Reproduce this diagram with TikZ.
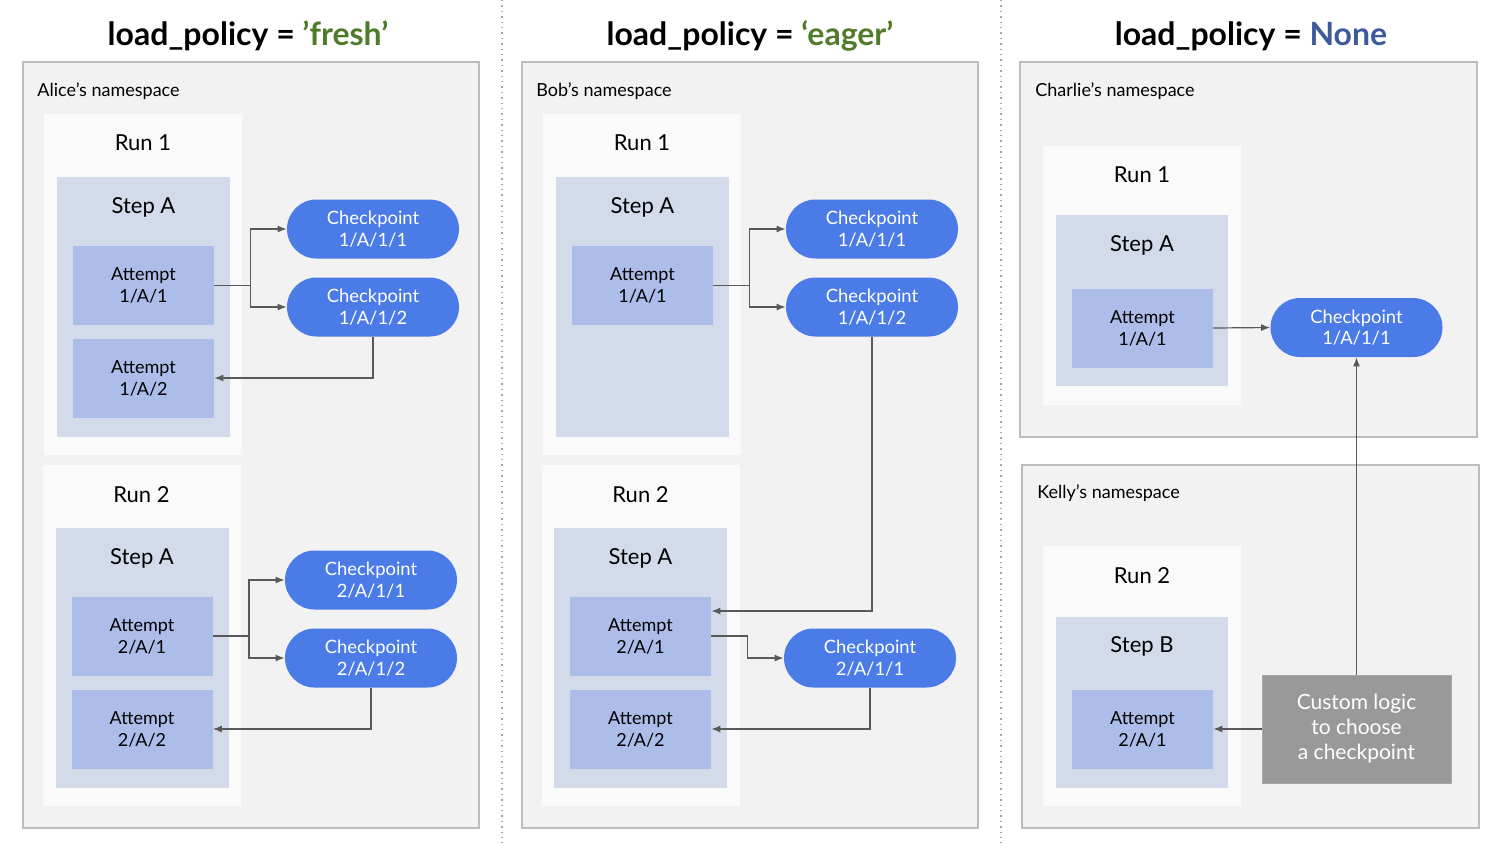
\documentclass[tikz,border=0pt]{standalone}
\usepackage{fontspec}
\setmainfont{Lato}
\usetikzlibrary{arrows.meta}
\definecolor{nsfill}{HTML}{F2F2F2}
\definecolor{nsline}{HTML}{BDBDBD}
\definecolor{runfill}{HTML}{FAFAFA}
\definecolor{stepfill}{HTML}{D3DBEA}
\definecolor{attfill}{HTML}{ADBDE9}
\definecolor{cpfill}{HTML}{4A7BE7}
\definecolor{logicfill}{HTML}{999999}
\definecolor{connline}{HTML}{595959}
\definecolor{freshgreen}{HTML}{4F7B2A}
\definecolor{noneblue}{HTML}{3C5A9A}

\begin{document}
\begin{tikzpicture}[x=0.5pt,y=-0.5pt]
		\tikzset{nsbox/.style = {draw=nsline,fill=nsfill,line width=0.8pt,minimum width=228pt},
			nslabel/.style = {anchor=west,font=\fontsize{9}{11}\selectfont,inner sep=0pt},
			runbox/.style = {fill=runfill,minimum width=99pt},
			stepbox/.style = {fill=stepfill,minimum width=86.5pt},
			boxlabel/.style = {font=\fontsize{11}{13}\selectfont,inner sep=0pt},
			attempt/.style = {fill=attfill,minimum width=70.5pt,minimum height=39.5pt,align=center,font=\fontsize{9}{11}\selectfont},
			checkpoint/.style = {fill=cpfill,text=white,rounded corners=14.75pt,minimum width=86pt,minimum height=29.5pt,align=center,font=\fontsize{9.2}{10.8}\selectfont},
			logic/.style = {fill=logicfill,draw=logicfill!85!white,text=white,minimum width=94.5pt,minimum height=54pt,align=center,font=\fontsize{10.5}{12.5}\selectfont},
			title/.style = {font=\fontsize{16}{19}\selectfont\bfseries},
			conn/.style = {draw=connline,line width=0.6pt,-{Latex[length=4.5pt,width=3.5pt]}},
			sep/.style = {draw=gray!70,line width=0.7pt,dotted}}
		\useasboundingbox (0,0) rectangle (1500,843);
			\node[title] (ttl1) at (248,36) {load\_policy = {\color{freshgreen}’fresh’}};
			\node[title] (ttl2) at (750,36) {load\_policy = {\color{freshgreen}‘eager’}};
			\node[title] (ttl3) at (1251,36) {load\_policy = {\color{noneblue}None}};
			\draw[sep] (502,0) -- (502,843);
			\draw[sep] (1001,0) -- (1001,843);

			\node[nsbox,minimum height=383pt] (alice) at (251,445) {};
			\node[nslabel] (alicelbl) at (37,91) {Alice’s namespace};
			\node[runbox,minimum height=170.5pt] (ar1) at (143,284.5) {};
			\node[boxlabel] (ar1lbl) at ([yshift=-14.5pt]ar1.north) {Run 1};
			\node[stepbox,minimum height=130pt] (as1) at (143.5,307) {};
			\node[boxlabel] (as1lbl) at ([yshift=-15.5pt]as1.north) {Step A};
			\node[attempt] (aa11) at (143.5,285.5) {Attempt\\1/A/1};
			\node[attempt] (aa12) at (143.5,378) {Attempt\\1/A/2};
			\node[checkpoint] (acp111) at (373,229) {Checkpoint\\1/A/1/1};
			\node[checkpoint] (acp112) at (373,307) {Checkpoint\\1/A/1/2};
			\node[runbox,minimum height=170.5pt] (ar2) at (141.5,635.5) {};
			\node[boxlabel] (ar2lbl) at ([yshift=-15pt]ar2.north) {Run 2};
			\node[stepbox,minimum height=130pt] (as2) at (142,658) {};
			\node[boxlabel] (as2lbl) at ([yshift=-15.5pt]as2.north) {Step A};
			\node[attempt] (aa21) at (142,636) {Attempt\\2/A/1};
			\node[attempt] (aa22) at (142,729) {Attempt\\2/A/2};
			\node[checkpoint] (acp211) at (371,580) {Checkpoint\\2/A/1/1};
			\node[checkpoint] (acp212) at (371,658) {Checkpoint\\2/A/1/2};
			\draw[conn] (aa11.east) -- ++(36,0) coordinate (asplit1) |- (acp111.west);
			\draw[conn] (asplit1) |- (acp112.west);
			\draw[conn] (acp112.south) |- (aa12.east);
			\draw[conn] (aa21.east) -- ++(36,0) coordinate (asplit2) |- (acp211.west);
			\draw[conn] (asplit2) |- (acp212.west);
			\draw[conn] (acp212.south) |- (aa22.east);

			\node[nsbox,minimum height=383pt] (bob) at (750,445) {};
			\node[nslabel] (boblbl) at (536,91) {Bob’s namespace};
			\node[runbox,minimum height=170.5pt] (br1) at (642,284.5) {};
			\node[boxlabel] (br1lbl) at ([yshift=-14.5pt]br1.north) {Run 1};
			\node[stepbox,minimum height=130pt] (bs1) at (642.5,307) {};
			\node[boxlabel] (bs1lbl) at ([yshift=-15.5pt]bs1.north) {Step A};
			\node[attempt] (ba11) at (642.5,285.5) {Attempt\\1/A/1};
			\node[checkpoint] (bcp111) at (872,229) {Checkpoint\\1/A/1/1};
			\node[checkpoint] (bcp112) at (872,307) {Checkpoint\\1/A/1/2};
			\node[runbox,minimum height=170.5pt] (br2) at (640.5,635.5) {};
			\node[boxlabel] (br2lbl) at ([yshift=-15pt]br2.north) {Run 2};
			\node[stepbox,minimum height=130pt] (bs2) at (640.5,658) {};
			\node[boxlabel] (bs2lbl) at ([yshift=-15.5pt]bs2.north) {Step A};
			\node[attempt] (ba21) at (640.5,636) {Attempt\\2/A/1};
			\node[attempt] (ba22) at (640.5,729) {Attempt\\2/A/2};
			\node[checkpoint] (bcp211) at (870,658) {Checkpoint\\2/A/1/1};
			\draw[conn] (ba11.east) -- ++(36,0) coordinate (bsplit1) |- (bcp111.west);
			\draw[conn] (bsplit1) |- (bcp112.west);
			\draw[conn] (bcp112.south) |- ([yshift=12.5pt]ba21.east);
			\draw[conn] (ba21.east) -- ++(36,0) |- (bcp211.west);
			\draw[conn] (bcp211.south) |- (ba22.east);

			\node[nsbox,minimum width=228.5pt,minimum height=187.5pt] (charlie) at (1248.5,249.5) {};
			\node[nslabel] (charlielbl) at (1035,91) {Charlie’s namespace};
			\node[runbox,minimum height=129.5pt] (cr1) at (1142,275.5) {};
			\node[boxlabel] (cr1lbl) at ([yshift=-14.5pt]cr1.north) {Run 1};
			\node[stepbox,minimum width=86pt,minimum height=85.5pt] (cs1) at (1142,300.5) {};
			\node[boxlabel] (cs1lbl) at ([yshift=-15.5pt]cs1.north) {Step A};
			\node[attempt] (ca11) at (1142.5,328) {Attempt\\1/A/1};
			\node[checkpoint] (ccp111) at (1356.5,327.5) {Checkpoint\\1/A/1/1};
			\draw[conn] (ca11.east) -- (ccp111.west);

			\node[nsbox,minimum width=228.5pt,minimum height=181.5pt] (kelly) at (1250.5,646.5) {};
			\node[nslabel] (kellylbl) at (1037,493) {Kelly’s namespace};
			\node[runbox,minimum height=130pt] (kr2) at (1142,676) {};
			\node[boxlabel] (kr2lbl) at ([yshift=-15pt]kr2.north) {Run 2};
			\node[stepbox,minimum width=86pt,minimum height=85.5pt] (ks1) at (1142,702.5) {};
			\node[boxlabel] (ks1lbl) at ([yshift=-15pt]ks1.north) {Step B};
			\node[attempt] (ka21) at (1142.5,729) {Attempt\\2/A/1};
			\node[logic] (custom) at (1356.5,729) {Custom logic\\to choose\\a checkpoint};
			\draw[conn] (custom.north) -- (ccp111.south);
			\draw[conn] (custom.west) -- (ka21.east);
		\end{tikzpicture}
\end{document}
